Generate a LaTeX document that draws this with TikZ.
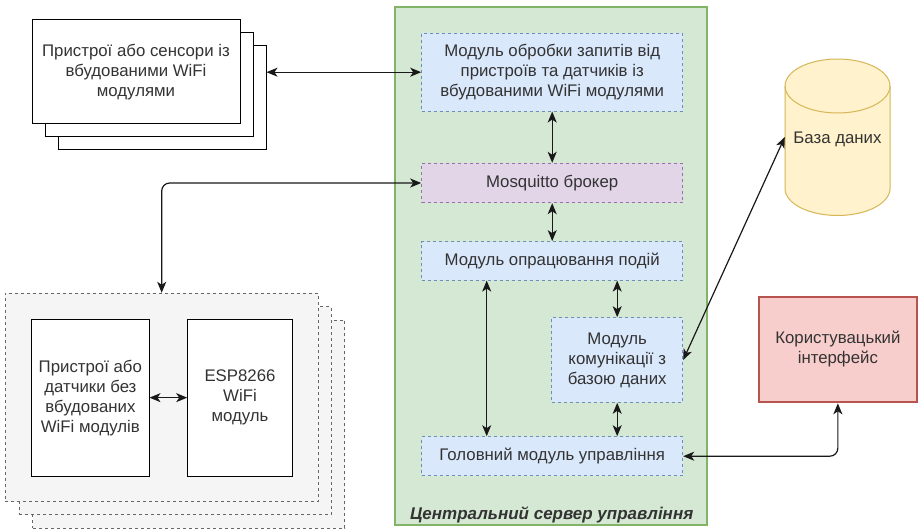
\documentclass[tikz,border=0pt]{standalone}
\usepackage{fontspec}
\setmainfont{Liberation Sans}
\usetikzlibrary{arrows.meta}
\definecolor{txtc}{HTML}{333333}
\definecolor{bluef}{HTML}{DAE8FC}
\definecolor{blued}{HTML}{6C8EBF}
\definecolor{purf}{HTML}{E1D5E7}
\definecolor{purd}{HTML}{9673A6}
\definecolor{grnf}{HTML}{D5E8D4}
\definecolor{grnd}{HTML}{82B366}
\definecolor{grayf}{HTML}{F5F5F5}
\definecolor{grayd}{HTML}{666666}
\definecolor{yelf}{HTML}{FFF2CC}
\definecolor{yeld}{HTML}{D6B656}
\definecolor{redf}{HTML}{F8CECC}
\definecolor{redd}{HTML}{B85450}
\tikzset{
  x=1pt, y=1pt,
  lbl/.style={font=\fontsize{16.8}{20}\selectfont, text=txtc, align=center, inner sep=0pt},
  plainbox/.style={lbl, draw=black, fill=white, line width=1pt},
  bluebox/.style={lbl, draw=blued, fill=bluef, line width=1pt, dash pattern=on 3pt off 3pt},
  purbox/.style={lbl, draw=purd, fill=purf, line width=1pt, dash pattern=on 3pt off 3pt},
  graybox/.style={draw=grayd, fill=grayf, line width=1pt, dash pattern=on 3pt off 3pt, inner sep=0pt},
  conn/.style={draw=black!90, line width=1.2pt, {Stealth[length=11pt,width=9pt,inset=3pt]}-{Stealth[length=11pt,width=9pt,inset=3pt]}},
}
\begin{document}
\begin{tikzpicture}
\useasboundingbox[fill=white] (0,0) rectangle (918,-529);

% green container
\node[draw=grnd, fill=grnf, line width=2pt, minimum width=312pt, minimum height=518pt, inner sep=0pt] (srv) at (551,-266) {};
\node[font=\fontsize{17}{20}\selectfont\bfseries\itshape, text=txtc, inner sep=0pt] (srvt) at (551.7,-515) {Центральний сервер управління};

% top-left stacked boxes
\node[plainbox, minimum width=208pt, minimum height=104pt] (tl3) at (162,-98) {};
\node[plainbox, minimum width=208pt, minimum height=104pt] (tl2) at (149,-85) {};
\node[plainbox, minimum width=208pt, minimum height=104pt] (tl) at (136,-72) {Пристрої або сенсори із\\вбудованими WiFi\\модулями};

% bottom-left stacked group
\node[graybox, minimum width=312pt, minimum height=208pt] (bl3) at (188.7,-424) {};
\node[graybox, minimum width=312pt, minimum height=208pt] (bl2) at (175.2,-410.5) {};
\node[graybox, minimum width=313.3pt, minimum height=208.4pt] (bl) at (161.7,-397.5) {};
\node[plainbox, minimum width=117.3pt, minimum height=156.7pt] (li) at (90.35,-397.65) {Пристрої або\\датчики без\\вбудованих\\WiFi модулів};
\node[plainbox, minimum width=104.6pt, minimum height=156.7pt] (ri) at (240,-397.65) {ESP8266\\WiFi\\модуль};

% inner modules
\node[bluebox, minimum width=261pt, minimum height=77.7pt] (m1) at (552.2,-72.2) {Модуль обробки запитів від\\пристроїв та датчиків із\\вбудованими WiFi модулями};
\node[purbox, minimum width=261pt, minimum height=39.4pt] (mq) at (552.2,-183) {Mosquitto брокер};
\node[bluebox, minimum width=261pt, minimum height=38.5pt] (mo) at (552.2,-260.85) {Модуль опрацювання подій};
\node[bluebox, minimum width=131pt, minimum height=84.6pt] (kom) at (617.2,-360) {Модуль\\комунікації з\\базою даних};
\node[bluebox, minimum width=261pt, minimum height=39pt] (hol) at (552.2,-456.2) {Головний модуль управління};

% database cylinder
\path[fill=yelf, draw=yeld, line width=1pt] (785,-86) -- (785,-188.5)
  arc[start angle=180, end angle=360, x radius=52.5, y radius=27] -- (890,-86)
  arc[start angle=0, end angle=180, x radius=52.5, y radius=27] -- cycle;
\draw[yeld, line width=1pt] (785,-86) arc[start angle=180, end angle=360, x radius=52.5, y radius=27];
\node[lbl, minimum width=105pt, minimum height=157pt] (db) at (837.5,-137) {};
\node[lbl] (dbt) at (837.5,-139) {База даних};

% user interface
\node[lbl, draw=redd, fill=redf, line width=2pt, minimum width=157.7pt, minimum height=105.6pt] (ui) at (837.85,-349.5) {Користувацький\\інтерфейс};

% connectors
\draw[conn] (m1.west -| tl3.east) -- (m1.west);
\draw[conn] (m1.south) -- (mq.north);
\draw[conn] (mq.south) -- (mo.north);
\draw[conn] ([xshift=-65.5pt]mo.south) -- ([xshift=-65.5pt]hol.north);
\draw[conn] (kom.north |- mo.south) -- (kom.north);
\draw[conn] (kom.south) -- (kom.south |- hol.north);
\draw[conn, rounded corners=8pt] (mq.west) -| (bl.north);
\draw[conn] (kom.east) -- (db.west);
\draw[conn, rounded corners=8pt] (hol.east) -| (ui.south);
\draw[conn] (li.east) -- (ri.west);
\end{tikzpicture}
\end{document}
